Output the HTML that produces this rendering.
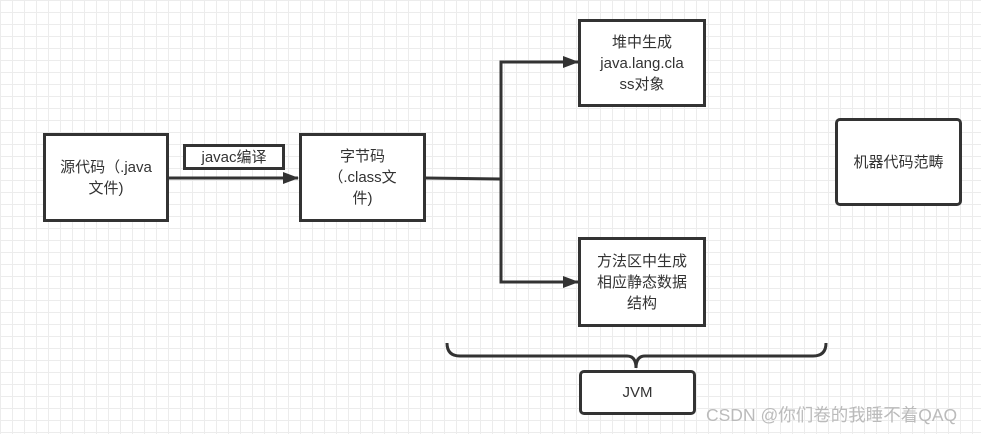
<!DOCTYPE html>
<html><head><meta charset="utf-8"><style>
body{margin:0;width:981px;height:434px;overflow:hidden;background:#fff;
background-image:linear-gradient(#ececec 1px,transparent 1px),linear-gradient(90deg,#ececec 1px,transparent 1px);
background-size:12px 12px;font-family:"Liberation Sans","Noto Sans CJK SC",sans-serif;}
.b{position:absolute;border:3px solid #333;background:#fff;box-sizing:border-box;display:flex;align-items:center;justify-content:center;text-align:center;font-size:15px;color:#333;line-height:21px}
</style></head><body>
<svg width="981" height="434" style="position:absolute;left:0;top:0">
<defs><marker id="a" markerWidth="16" markerHeight="12" refX="15" refY="6" orient="auto" markerUnits="userSpaceOnUse"><path d="M0,0 L16,6 L0,12z" fill="#333"/></marker></defs>
<g stroke="#333" stroke-width="3" fill="none">
<line x1="168" y1="178" x2="298" y2="178" marker-end="url(#a)"/>
<polyline points="425,178 501,179"/>
<polyline points="501,179 501,62 578,62" marker-end="url(#a)"/>
<polyline points="501,179 501,282 578,282" marker-end="url(#a)"/>
<path d="M447,343 Q447,356 460,356 L627,356 Q636,356 636,368 Q636,356 645,356 L813,356 Q826,356 826,343"/>
</g></svg>
<div class="b" style="left:43px;top:133px;width:126px;height:89px">源代码（.java<br>文件)</div>
<div class="b" style="left:183px;top:144px;width:102px;height:26px">javac编译</div>
<div class="b" style="left:299px;top:133px;width:127px;height:89px">字节码<br>（.class文<br>件)</div>
<div class="b" style="left:578px;top:19px;width:128px;height:88px">堆中生成<br>java.lang.cla<br>ss对象</div>
<div class="b" style="left:578px;top:237px;width:128px;height:90px">方法区中生成<br>相应静态数据<br>结构</div>
<div class="b" style="left:835px;top:118px;width:127px;height:88px;border-radius:5px">机器代码范畴</div>
<div class="b" style="left:579px;top:370px;width:117px;height:45px;border-radius:5px">JVM</div>
<div style="position:absolute;left:706px;top:402px;font-size:17.5px;color:#bbb;white-space:nowrap">CSDN @你们卷的我睡不着QAQ</div>
</body></html>
